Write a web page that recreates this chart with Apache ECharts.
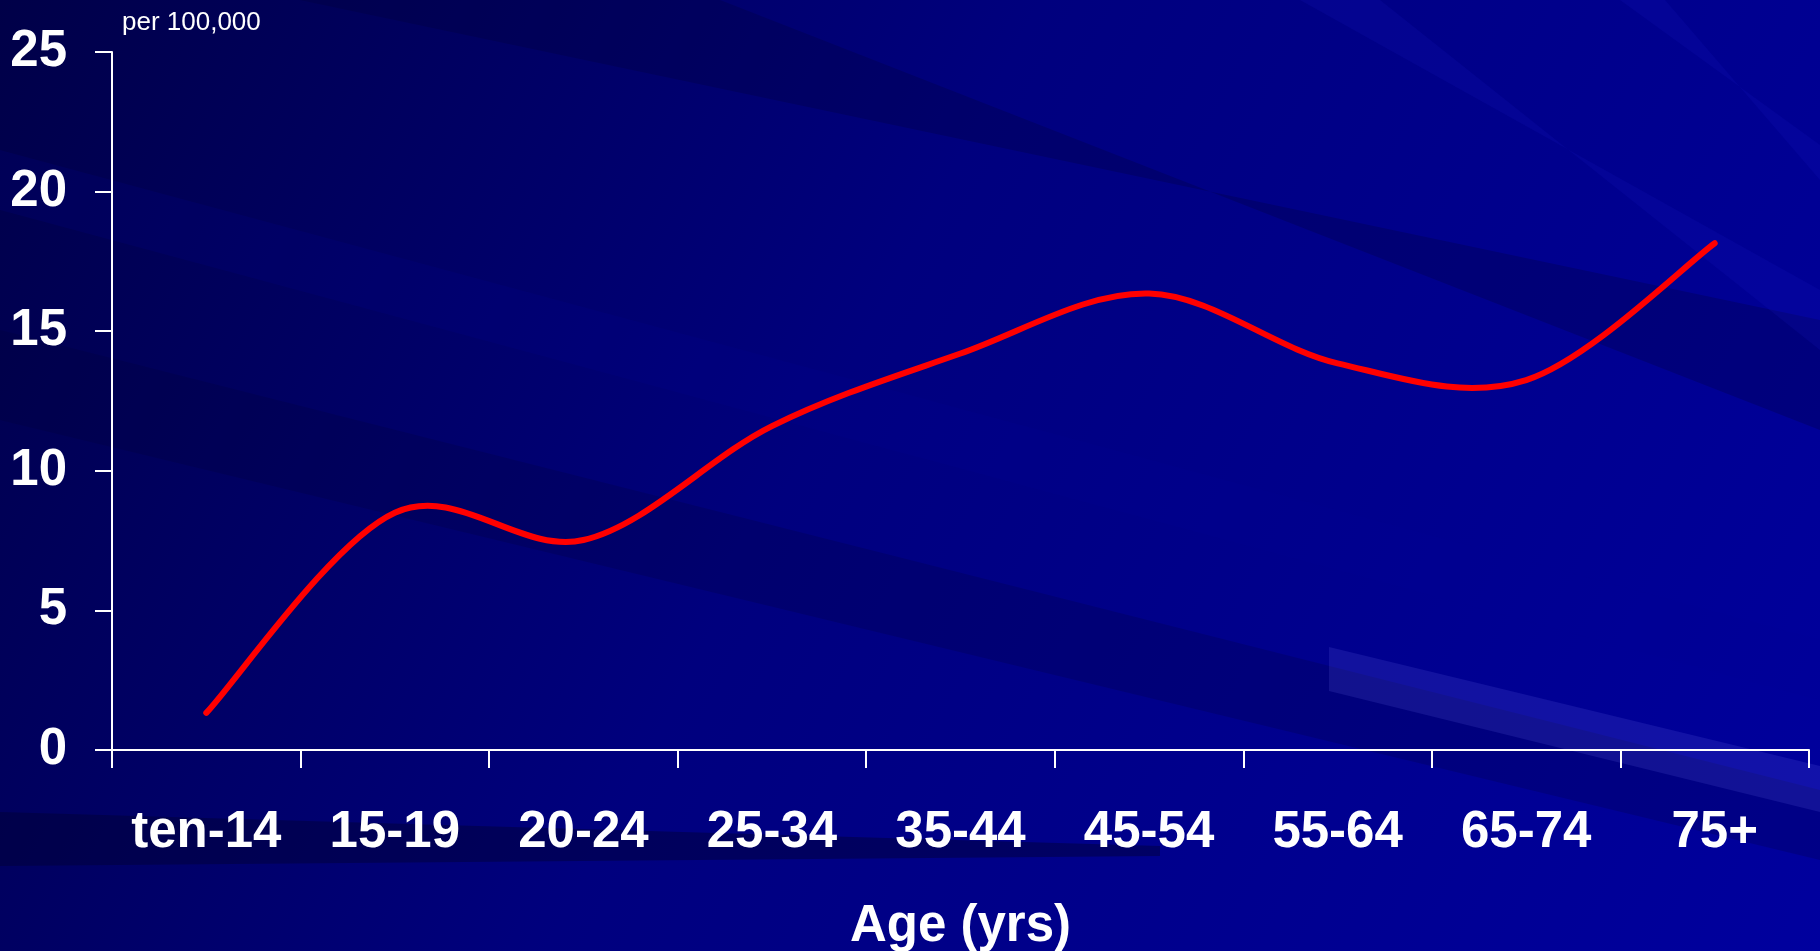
<!DOCTYPE html>
<html>
<head>
<meta charset="utf-8">
<title>Rate by age</title>
<script src="https://cdn.jsdelivr.net/npm/echarts@6/dist/echarts.min.js"></script>
<style>
  html, body { margin: 0; padding: 0; background: #000080; }
  #main { width: 1820px; height: 951px; }
</style>
</head>
<body>
<div id="main"></div>
<script>
// age groups on the x axis
var ageGroups = ['ten-14', '15-19', '20-24', '25-34', '35-44', '45-54', '55-64', '65-74', '75+'];
// rate per 100,000
var rates = [1.33, 8.5, 7.52, 11.6, 14.2, 16.35, 13.85, 13.25, 18.15];
var yTicks = [0, 5, 10, 15, 20, 25];

var chart = echarts.init(document.getElementById('main'));

// diagonal streaks of the slide background
function streak(points, fill) {
  return {
    type: 'polygon',
    z: -10,
    silent: true,
    shape: { points: points },
    style: { fill: fill }
  };
}

// the spreadsheet-style smoothed line (catmull-rom through the points),
// drawn once through the axis coordinates
function renderCurve(params, api) {
  if (params.dataIndex !== 0) return null;
  var pts = rates.map(function (v, i) { return api.coord([i, v]); });
  var d = 'M' + pts[0][0] + ' ' + pts[0][1];
  for (var i = 0; i < pts.length - 1; i++) {
    var p0 = pts[Math.max(i - 1, 0)];
    var p1 = pts[i];
    var p2 = pts[i + 1];
    var p3 = pts[Math.min(i + 2, pts.length - 1)];
    var c1x = p1[0] + (p2[0] - p0[0]) / 6;
    var c1y = p1[1] + (p2[1] - p0[1]) / 6;
    var c2x = p2[0] - (p3[0] - p1[0]) / 6;
    var c2y = p2[1] - (p3[1] - p1[1]) / 6;
    d += ' C' + c1x + ' ' + c1y + ' ' + c2x + ' ' + c2y + ' ' + p2[0] + ' ' + p2[1];
  }
  return {
    type: 'path',
    shape: { pathData: d },
    style: { fill: null, stroke: '#ff0000', lineWidth: 6, lineCap: 'round', lineJoin: 'round' }
  };
}

chart.setOption({
  animation: false,
  backgroundColor: {
    type: 'linear', x: 0, y: 0, x2: 1, y2: 1,
    colorStops: [
      { offset: 0, color: '#000048' },
      { offset: 0.45, color: '#00007e' },
      { offset: 1, color: '#00009e' }
    ]
  },
  graphic: [
    streak([[300, 0], [720, 0], [1820, 430], [1820, 320]], 'rgba(0,0,50,0.25)'),
    streak([[0, 150], [0, 210], [1820, 700], [1820, 640]], 'rgba(0,0,150,0.16)'),
    streak([[0, 330], [0, 420], [1820, 860], [1820, 790]], 'rgba(0,0,50,0.2)'),
    streak([[1300, 0], [1380, 0], [1820, 350], [1820, 290]], 'rgba(30,30,200,0.15)'),
    streak([[1620, 0], [1665, 0], [1820, 180], [1820, 145]], 'rgba(30,30,200,0.15)'),
    streak([[0, 812], [0, 866], [1160, 856], [1160, 846]], 'rgba(0,0,50,0.45)'),
    streak([[1329, 647], [1329, 691], [1820, 812], [1820, 766]], 'rgba(130,130,255,0.14)')
  ],
  title: {
    text: 'per 100,000',
    left: 117,
    top: 5,
    textStyle: {
      color: '#ffffff',
      fontFamily: 'Liberation Sans',
      fontWeight: 'normal',
      fontSize: 26
    }
  },
  grid: {
    left: 112,
    right: 11,
    top: 52,
    bottom: 201,
    containLabel: false,
    outerBoundsMode: 'none'
  },
  xAxis: {
    type: 'category',
    data: ageGroups,
    boundaryGap: true,
    name: 'Age (yrs)',
    nameLocation: 'middle',
    nameGap: 151,
    nameTextStyle: {
      color: '#ffffff',
      fontFamily: 'Liberation Sans',
      fontWeight: 'bold',
      fontSize: 51
    },
    axisLine: { lineStyle: { color: '#ffffff', width: 2 } },
    axisTick: { show: true, length: 18, lineStyle: { color: '#ffffff', width: 2 } },
    axisLabel: {
      color: '#ffffff',
      fontFamily: 'Liberation Sans',
      fontWeight: 'bold',
      fontSize: 51,
      margin: 57,
      interval: 0
    },
    splitLine: { show: false }
  },
  yAxis: {
    type: 'value',
    min: yTicks[0],
    max: yTicks[yTicks.length - 1],
    interval: 5,
    axisLine: { show: true, lineStyle: { color: '#ffffff', width: 2 } },
    axisTick: { show: true, length: 17, lineStyle: { color: '#ffffff', width: 2 } },
    axisLabel: {
      color: '#ffffff',
      fontFamily: 'Liberation Sans',
      fontWeight: 'bold',
      fontSize: 51,
      margin: 45
    },
    splitLine: { show: false }
  },
  series: [{
    type: 'custom',
    name: 'rate',
    data: rates.map(function (v, i) { return [i, v]; }),
    encode: { x: 0, y: 1 },
    renderItem: renderCurve
  }]
});
</script>
</body>
</html>
